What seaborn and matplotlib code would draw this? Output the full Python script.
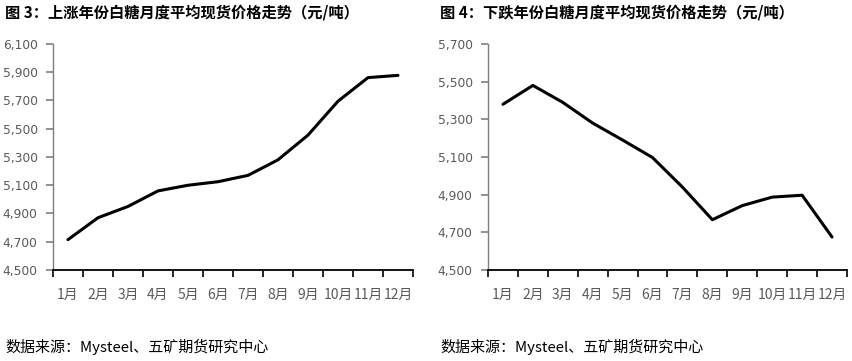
import matplotlib
matplotlib.use("Agg")
import matplotlib.pyplot as plt
import seaborn as sns
import pandas as pd
import numpy as np
from matplotlib.ticker import FuncFormatter, FixedLocator

months = ["1月", "2月", "3月", "4月", "5月", "6月", "7月", "8月", "9月", "10月", "11月", "12月"]
up_values = [4715, 4870, 4950, 5060, 5100, 5125, 5170, 5280, 5455, 5695, 5862, 5878]
down_values = [5380, 5480, 5390, 5280, 5190, 5097, 4940, 4767, 4842, 4887, 4897, 4675]

title_left = "图 3：上涨年份白糖月度平均现货价格走势（元/吨）"
title_right = "图 4：下跌年份白糖月度平均现货价格走势（元/吨）"
source = "数据来源：Mysteel、五矿期货研究中心"

sns.set_theme(style="white")
plt.rcParams['font.family'] = ['Noto Sans CJK SC', 'DejaVu Sans']

fig = plt.figure(figsize=(8.53, 3.61), dpi=100)
W, H = 853, 361

def make_ax(x0, x1, y0, y1):
    return fig.add_axes([x0 / W, 1 - y1 / H, (x1 - x0) / W, (y1 - y0) / H])

ax1 = make_ax(53, 413, 44, 270)
ax2 = make_ax(488, 847, 44, 270)

def style(ax, values, ylo, yhi, ticks):
    df = pd.DataFrame({"m": np.arange(len(months)), "v": values})
    sns.lineplot(data=df, x="m", y="v", ax=ax, color="black", linewidth=2.2)
    ax.set_xlim(-0.5, len(months) - 0.5)
    ax.set_ylim(ylo, yhi)
    ax.set_yticks(ticks)
    ax.yaxis.set_major_formatter(FuncFormatter(lambda v, p: f"{int(v):,}"))
    ax.set_xticks(np.arange(len(months)))
    ax.set_xticklabels(months)
    ax.xaxis.set_minor_locator(FixedLocator(np.arange(-0.5, len(months), 1.0)))
    ax.tick_params(axis="x", which="major", length=0, pad=13, labelsize=10, labelcolor="#595959")
    ax.tick_params(axis="x", which="minor", length=5, width=1.2, color="black", direction="out", bottom=True)
    ax.tick_params(axis="y", length=5, width=1.2, color="#7f7f7f", direction="out", left=True,
                   labelsize=8.8, labelcolor="#595959", pad=6)
    for lbl in ax.get_yticklabels():
        lbl.set_fontfamily(["DejaVu Sans"])
    ax.set_xlabel("")
    ax.set_ylabel("")
    ax.spines["top"].set_visible(False)
    ax.spines["right"].set_visible(False)
    ax.spines["left"].set_color("#7f7f7f")
    ax.spines["left"].set_linewidth(1.0)
    ax.spines["bottom"].set_color("black")
    ax.spines["bottom"].set_linewidth(1.3)
    ax.grid(False)

style(ax1, up_values, 4500, 6100, list(range(4500, 6101, 200)))
style(ax2, down_values, 4500, 5700, list(range(4500, 5701, 200)))

fig.text(5 / W, 1 - 12 / H, title_left, fontsize=11, fontweight="bold", va="center", ha="left", color="black")
fig.text(440 / W, 1 - 12 / H, title_right, fontsize=11, fontweight="bold", va="center", ha="left", color="black")
fig.text(5 / W, 1 - 347 / H, source, fontsize=10.8, va="center", ha="left", color="black")
fig.text(440 / W, 1 - 347 / H, source, fontsize=10.8, va="center", ha="left", color="black")

fig.savefig("out.png", dpi=100)
